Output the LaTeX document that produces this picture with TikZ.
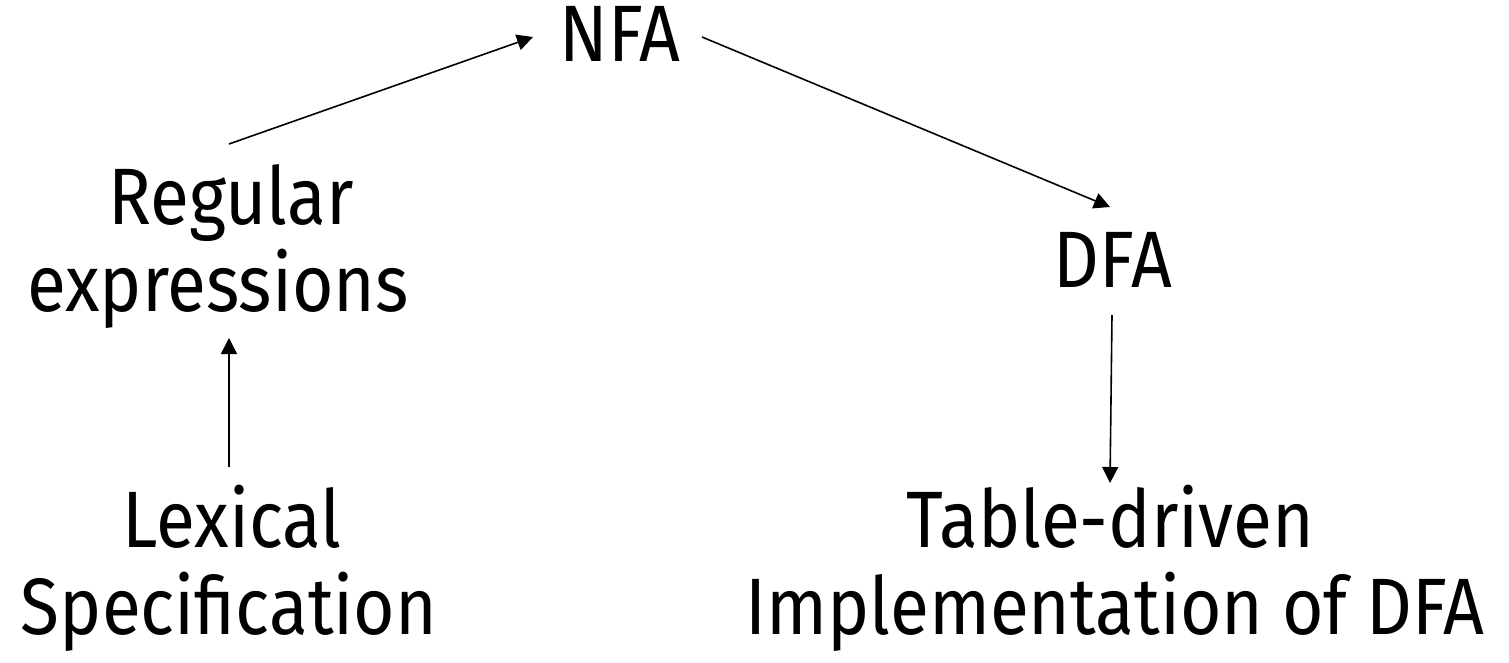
\documentclass[tikz,border=0pt]{standalone}
\usepackage{fontspec}
\setmainfont[FakeStretch=0.89]{Fira Sans}
\usetikzlibrary{arrows.meta}
\tikzset{
  lbl/.style={inner sep=0pt, anchor=base, font=\fontsize{80}{87}\selectfont},
  arr/.style={line width=1.6pt, -{Triangle[width=16pt,length=16pt]}}
}
\begin{document}
\begin{tikzpicture}[x=1pt,y=-1pt]
\useasboundingbox (0,0) rectangle (1509,663);
\node[lbl] (nfa) at (620,62) {NFA};
\node[lbl] (reg) at (231,224) {Regular};
\node[lbl] (expr) at (218,311) {expressions};
\node[lbl] (dfa) at (1113,287) {DFA};
\node[lbl] (lex) at (232,547) {Lexical};
\node[lbl] (spec) at (229,634) {Specification};
\node[lbl] (tab) at (1110,547) {Table-driven};
\node[lbl] (impl) at (1115,634) {Implementation of DFA};
\draw[arr] ([shift={(-2,-80)}]reg.base) -- ([shift={(-87,-25)}]nfa.base);
\draw[arr] ([shift={(82,-25)}]nfa.base) -- ([shift={(-3,-80)}]dfa.base);
\draw[arr] ([shift={(-3,-80)}]lex.base) -- ([shift={(11,27)}]expr.base);
\draw[arr] ([shift={(-1,28)}]dfa.base) -- ([shift={(0,-64)}]tab.base);
\end{tikzpicture}
\end{document}
